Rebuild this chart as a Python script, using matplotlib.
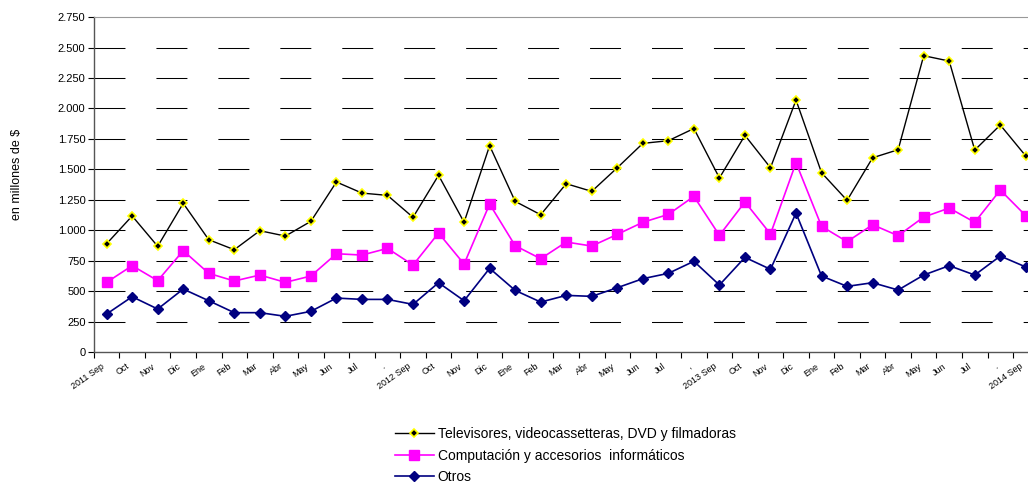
import numpy as np
import matplotlib
matplotlib.use("Agg")
import matplotlib.pyplot as plt
from matplotlib.ticker import FuncFormatter, MultipleLocator

plt.rcParams['font.family'] = ['Liberation Sans', 'DejaVu Sans']
plt.rcParams['lines.scale_dashes'] = False

# month labels (Sep 2011 .. Sep 2014)
months = ["Sep", "Oct", "Nov", "Dic", "Ene", "Feb", "Mar", "Abr", "May", "Jun", "Jul", "."]
tick_labels = (["2011 Sep"] + months[1:] + ["2012 Sep"] + months[1:-1] + [","]
               + ["2013 Sep"] + months[1:] + ["2014 Sep"])

televisores = [889, 1117, 868, 1221, 922, 840, 996, 952, 1073, 1396, 1305, 1286,
               1106, 1451, 1065, 1694, 1237, 1127, 1382, 1319, 1513, 1713, 1735, 1835,
               1429, 1779, 1513, 2069, 1472, 1245, 1595, 1661, 2433, 2389, 1658, 1864, 1609]
computacion = [572, 709, 586, 832, 646, 583, 632, 572, 624, 807, 796, 851,
               714, 977, 722, 1215, 873, 766, 903, 870, 966, 1065, 1130, 1278,
               958, 1232, 969, 1554, 1032, 906, 1045, 955, 1108, 1182, 1065, 1330, 1119]
otros = [312, 454, 353, 517, 421, 323, 323, 293, 334, 443, 432, 432,
         391, 569, 421, 687, 506, 410, 465, 457, 528, 602, 646, 745,
         550, 777, 679, 1141, 624, 539, 569, 509, 632, 709, 632, 788, 698]

series_names = ["Televisores, videocassetteras, DVD y filmadoras",
                "Computación y accesorios  informáticos",
                "Otros"]

x = np.arange(len(televisores))

fig = plt.figure(figsize=(10.28, 4.84), dpi=100)
ax = fig.add_axes([0.0913, 0.2727, 0.919, 0.692])

ax.plot(x, televisores, color='black', lw=1.0, marker='D', ms=4.5,
        mfc='black', mec='#FFFF00', mew=1.2, label=series_names[0])
ax.plot(x, computacion, color='#FF00FF', lw=1.2, marker='s', ms=6.5,
        mfc='#FF00FF', mec='#FF00FF', label=series_names[1])
ax.plot(x, otros, color='#000080', lw=1.2, marker='D', ms=5.5,
        mfc='#000080', mec='#000080', label=series_names[2])

ax.set_xlim(-0.5, len(x) - 0.5)
ax.set_ylim(0, 2750)

# y axis
ax.yaxis.set_major_locator(MultipleLocator(250))
ax.yaxis.set_major_formatter(FuncFormatter(lambda v, p: f"{int(v):,}".replace(",", ".")))
ax.tick_params(axis='y', direction='out', length=4, width=0.8, labelsize=8, pad=2)
fig.text(17 / 1028, 1 - 174 / 484, "en millones de $", rotation=90,
         fontsize=9, ha='center', va='center')

# dashed horizontal grid
for v in range(250, 2750, 250):
    ax.axhline(v, color='black', lw=0.75, linestyle=(0, (22.3, 22.3)), zorder=0)

# x axis: labels slightly left of each category, ticks between categories
ax.set_xticks(x - 0.24)
ax.set_xticklabels(tick_labels, rotation=35, ha='right', va='top',
                   rotation_mode='anchor', fontsize=6.5)
ax.tick_params(axis='x', which='major', length=0, pad=7)
ax.set_xticks(np.arange(-0.5, len(x), 1), minor=True)
ax.tick_params(axis='x', which='minor', direction='out', length=4, width=0.8)

for s in ['left', 'bottom']:
    ax.spines[s].set_color('#555555')
    ax.spines[s].set_linewidth(1.0)
ax.spines['top'].set_color('#999999')
ax.spines['right'].set_color('#999999')

fig.legend(loc='upper left', bbox_to_anchor=(0.384, 0.118), frameon=False,
           fontsize=10, handlelength=2.8, handletextpad=0.3, labelspacing=0.55,
           borderpad=0, borderaxespad=0)

fig.savefig("out.png", dpi=100)
